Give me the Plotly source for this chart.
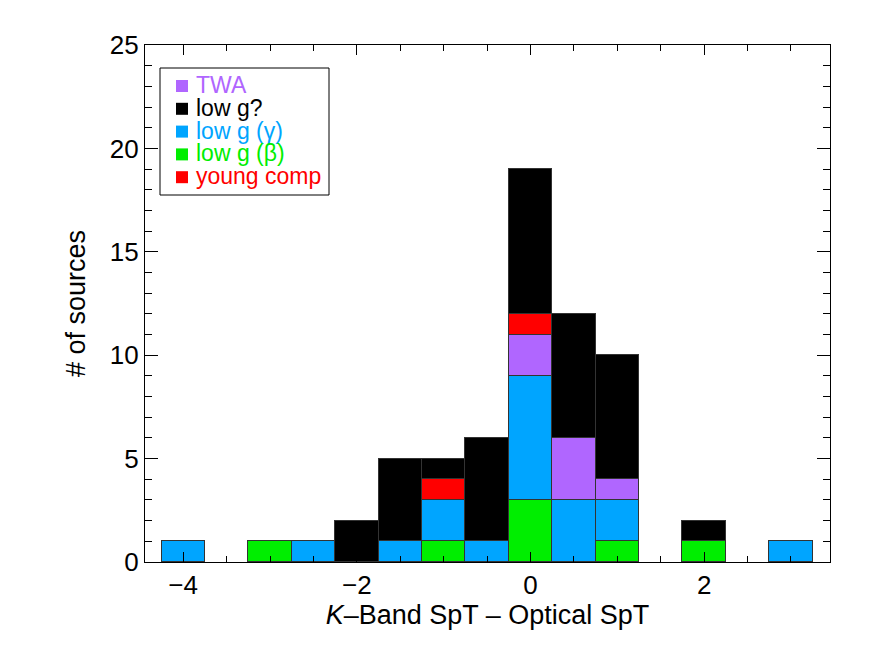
import plotly.graph_objects as go

# bin centres (K-band SpT - optical SpT), width 0.5
bins = [-4, -3.5, -3, -2.5, -2, -1.5, -1, -0.5, 0, 0.5, 1, 1.5, 2, 2.5, 3]

# counts per bin, stacked bottom -> top
low_g_beta = [0, 0, 1, 0, 0, 0, 1, 0, 3, 0, 1, 0, 1, 0, 0]
low_g_gamma = [1, 0, 0, 1, 0, 1, 2, 1, 6, 3, 2, 0, 0, 0, 1]
twa = [0, 0, 0, 0, 0, 0, 0, 0, 2, 3, 1, 0, 0, 0, 0]
young_comp = [0, 0, 0, 0, 0, 0, 1, 0, 1, 0, 0, 0, 0, 0, 0]
low_g_q = [0, 0, 0, 0, 2, 4, 1, 5, 7, 6, 6, 0, 1, 0, 0]

series = [
    ("low g (β)", low_g_beta, "#00ee00"),
    ("low g (γ)", low_g_gamma, "#00a5ff"),
    ("TWA", twa, "#b066ff"),
    ("young comp", young_comp, "#ff0000"),
    ("low g?", low_g_q, "#000000"),
]
legend_order = ["TWA", "low g?", "low g (γ)", "low g (β)", "young comp"]
colors = {name: c for name, _, c in series}

FONT = "Liberation Sans, Arial, Helvetica, sans-serif"

fig = go.Figure()
for name, vals, color in series:
    fig.add_trace(go.Bar(
        x=bins,
        y=[v if v else None for v in vals],
        width=0.5,
        name=name,
        marker=dict(color=color, line=dict(color="#333333", width=1)),
        showlegend=False,
    ))

# page body adds an 8px offset, so the figure is laid out 8px up/left
OFF = 8
FW, FH = 872 - OFF, 654 - OFF
L, T = 145 - OFF, 45 - OFF
W, H = 685, 517


def px(x):
    return (x - 145) / W


def py(y):
    return (45 + H - y) / H


# hand-made legend box (IDL style: coloured square + coloured text)
fig.add_shape(type="rect", xref="paper", yref="paper",
              x0=px(160), x1=px(329), y0=py(68), y1=py(195),
              line=dict(color="black", width=1), fillcolor="white", layer="above")
for i, name in enumerate(legend_order):
    yc = 86 + i * 22.8
    fig.add_shape(type="rect", xref="paper", yref="paper",
                  x0=px(176), x1=px(188), y0=py(yc + 6), y1=py(yc - 6),
                  line=dict(width=0), fillcolor=colors[name], layer="above")
    fig.add_annotation(xref="paper", yref="paper", x=px(195), y=py(yc - 1),
                       xanchor="left", yanchor="middle", showarrow=False,
                       borderpad=0,
                       text=name, font=dict(family=FONT, size=23, color=colors[name]))

axis_common = dict(
    showline=True, linecolor="black", linewidth=1.2, mirror="allticks",
    ticks="inside", tickcolor="black", showgrid=False, zeroline=False,
    tickfont=dict(family=FONT, size=26, color="black"),
)

fig.update_xaxes(
    range=[-4.44, 3.45], tickvals=[-4, -2, 0, 2], ticklen=10, tickwidth=1.2,
    minor=dict(dtick=0.5, tick0=0, ticklen=6, ticks="inside", tickcolor="black"),
    title=dict(text="<i>K</i>–Band SpT – Optical SpT",
               font=dict(family=FONT, size=27, color="black"), standoff=4),
    **axis_common,
)
fig.update_yaxes(
    range=[0, 25], dtick=5, ticklen=13, tickwidth=1.2,
    minor=dict(dtick=1, ticklen=7, ticks="inside", tickcolor="black"),
    title=dict(text="# of sources", font=dict(family=FONT, size=27, color="black"), standoff=16),
    **axis_common,
)

fig.update_layout(
    barmode="stack", bargap=0,
    width=FW, height=FH,
    margin=dict(l=L, r=FW - L - W, t=T, b=FH - T - H, autoexpand=False),
    plot_bgcolor="white", paper_bgcolor="white",
    showlegend=False,
)

fig.write_html("out.html")
